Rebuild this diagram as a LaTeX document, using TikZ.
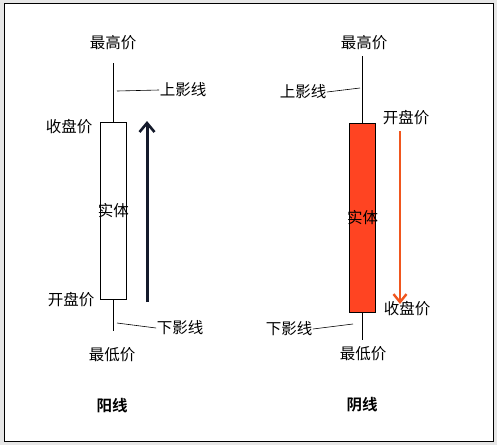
\documentclass[tikz,border=0pt]{standalone}
\usepackage{fontspec}
\setmainfont{Noto Sans CJK SC}[BoldFont={Noto Sans CJK SC Bold}]
\usepackage{xcolor}
\usetikzlibrary{arrows.meta,positioning}

\definecolor{upnavy}{HTML}{141A2B}
\definecolor{downred}{HTML}{FF4422}
\definecolor{downarr}{HTML}{F0561E}
\definecolor{outgray}{HTML}{E6E6E6}

\begin{document}
\begin{tikzpicture}[
    x=1pt, y=-1pt,
    font=\fontsize{15.5}{17}\selectfont,
    body/.style={
        rectangle,
        draw=black,
        line width=0.8pt,
        minimum width=26.5pt,
        inner sep=0pt
    },
    lbl/.style={inner sep=0.5pt},
    title/.style={font=\fontsize{15.5}{17}\selectfont\bfseries},
    wick/.style={line width=0.8pt, black},
    leader/.style={line width=0.6pt, black},
    uparrow/.style={-{Straight Barb[length=9pt, width=15pt, line width=2.6pt]}, line width=3pt, upnavy},
    downarrow/.style={-{Straight Barb[length=8pt, width=13pt, line width=2.4pt]}, line width=2.6pt, downarr}
]

% ===== frame =====
\fill[outgray] (0,0) rectangle (497,445);
\draw[fill=white, line width=0.8pt] (4,3) rectangle (493,441);
\useasboundingbox (0,0) rectangle (497,445);

% ===== LEFT: rising candle =====
\node[body, fill=white, minimum height=177pt] (ubody) at (113.3,210.5) {};
\node at (ubody.center) {实体};
\coordinate (utop) at (113.3,63);
\coordinate (ubot) at (113.3,331);
\draw[wick] (utop) -- (ubody.north);
\draw[wick] (ubody.south) -- (ubot);

\node[lbl] (uhigh) at (113,43) {最高价};
\node[lbl] (ulow) at (112,355) {最低价};
\node[lbl] (uclose) at (69,127) {收盘价};
\node[lbl] (uopen) at (71,300) {开盘价};
\node[lbl] (uupper) at (183,90) {上影线};
\node[lbl] (ulower) at (180,328) {下影线};

\coordinate (uupw) at (117,91);
\coordinate (ulow1) at (117,323);
\draw[leader] (uupw) -- (uupper.west);
\draw[leader] (ulow1) -- (ulower.west);

\coordinate (uastart) at (147,302);
\coordinate (uaend) at (147,121);
\draw[uparrow] (uastart) -- (uaend);

\node[title] (utitle) at (112,406) {阳线};

% ===== RIGHT: falling candle =====
\node[body, fill=downred, minimum height=189pt] (dbody) at (362.5,217.5) {};
\node at (dbody.center) {实体};
\coordinate (dtop) at (362.5,56);
\coordinate (dbot) at (362.5,340);
\draw[wick] (dtop) -- (dbody.north);
\draw[wick] (dbody.south) -- (dbot);

\node[lbl] (dhigh) at (364,43) {最高价};
\node[lbl] (dlow) at (363,354) {最低价};
\node[lbl] (dopen) at (406,118) {开盘价};
\node[lbl] (dclose) at (407,309) {收盘价};
\node[lbl] (dupper) at (303,92) {上影线};
\node[lbl] (dlower) at (289,329) {下影线};

\coordinate (dupw) at (360,88);
\coordinate (dlow1) at (353,324);
\draw[leader] (dupper.east) -- (dupw);
\draw[leader] (dlower.east) -- (dlow1);

\coordinate (dastart) at (400,131);
\coordinate (daend) at (400,304);
\draw[downarrow] (dastart) -- (daend);

\node[title] (dtitle) at (362,405) {阴线};

\end{tikzpicture}
\end{document}
